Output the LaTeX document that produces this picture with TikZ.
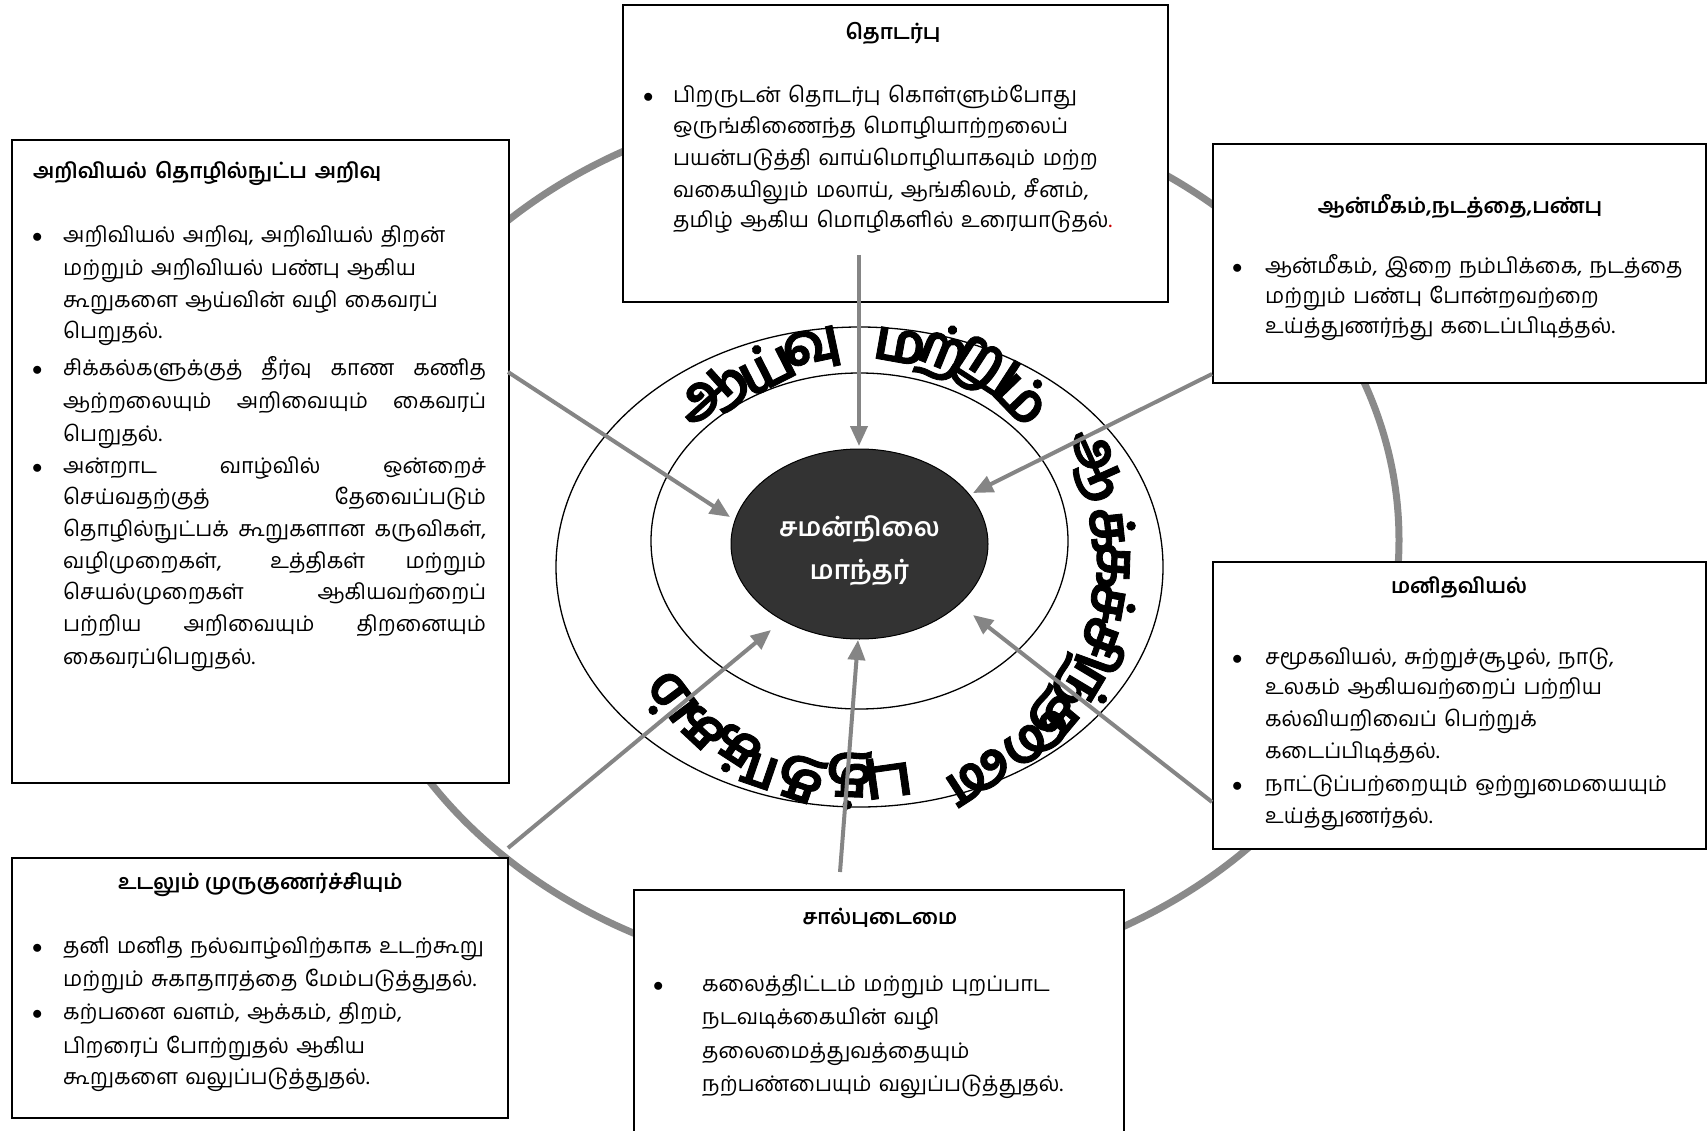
\documentclass[tikz,border=0pt]{standalone}
\usepackage{fontspec}
\setmainfont[Script=Tamil, WordSpace=1.4]{Hind Madurai}
\newfontfamily\ringfont[Script=Tamil, FakeBold=1.5]{Hind Madurai}
\usetikzlibrary{arrows.meta,shapes.geometric}
\definecolor{arrgray}{HTML}{858585}
\definecolor{ringgray}{HTML}{8A8A8A}
\definecolor{ctrfill}{HTML}{333333}
\newcounter{lnc}
\newcommand\tline[3]{\stepcounter{lnc}\node[txt] (ln\arabic{lnc}) at (#1,#2) {#3};}
\newcommand\jline[4]{\stepcounter{lnc}\node[txt] (ln\arabic{lnc}) at (#1,#2) {\makebox[#3pt][s]{#4}};}
\newcommand\bul[2]{\stepcounter{lnc}\node[txt] (bu\arabic{lnc}) at (#1,#2) {$\bullet$};}
\newcommand\rg[4]{\stepcounter{lnc}\node[ringtxt, rotate=#3] (rg\arabic{lnc}) at (#1,#2) {#4};}
\begin{document}
\begin{tikzpicture}[x=1pt,y=-1pt,
  box/.style={draw=black, line width=1.6pt, fill=white, inner sep=0, anchor=north west},
  arr/.style={draw=arrgray, line width=4pt, -{Triangle[length=20pt,width=17pt]}},
  txt/.style={anchor=base west, inner sep=0, font=\fontsize{21.5}{24}\selectfont},
  ttl/.style={anchor=center, inner sep=0, font=\bfseries\fontsize{21}{24}\selectfont},
  ringtxt/.style={anchor=center, inner sep=0, font=\ringfont\bfseries\fontsize{57}{57}\selectfont}]
\useasboundingbox (0,0) rectangle (1708,1131);
\fill[white] (0,0) rectangle (1708,1131);

% big gray ring
\draw[ringgray, line width=7pt] (871,540) ellipse [x radius=528, y radius=440];

% concentric rings
\draw[line width=1.3pt] (859.5,567) ellipse [x radius=303.5, y radius=240];
\draw[line width=1.3pt] (859.5,541) ellipse [x radius=208.5, y radius=168];

% centre
\node[ellipse, draw=black, line width=1pt, fill=ctrfill, minimum width=257pt, minimum height=190pt, inner sep=0] (ctr) at (859.5,544) {};
\node[align=center, text=white, inner sep=0, font=\bfseries\fontsize{26}{43}\selectfont] (ctrtxt) at (859.5,551) {சமன்நிலை\\மாந்தர்};

% ring text
\rg{714}{396}{42}{ஆ}
\rg{765}{366}{27}{ய்}
\rg{812}{350}{12}{வு}
\rg{900}{346}{-10}{ம}
\rg{943}{353}{-22}{ற்}
\rg{983}{370}{-33}{று}
\rg{1024}{396}{-46}{ம்}
\rg{1093}{466}{-66}{ஆ}
\rg{1113}{530}{-84}{க்}
\rg{1113}{566}{-92}{க}
\rg{1113}{604}{-100}{ச்}
\rg{1103}{647}{-110}{சி}
\rg{1081}{686}{-121}{ந்}
\rg{1053}{714}{-130}{த}
\rg{1008}{757}{-147}{னை}
\rg{888}{777}{-172}{பு}
\rg{849}{780}{-182}{த்}
\rg{784}{772}{-199}{தா}
\rg{734}{751}{-213}{க்}
\rg{701}{728}{-223}{க}
\rg{668}{700}{-233}{ம்}

% ---------- top box
\node[box, minimum width=545pt, minimum height=297pt] (tbox) at (622,4) {};
\node[ttl] (ttop) at (893,33) {தொடர்பு};
\bul{643}{103}
\tline{673}{103}{பிறருடன் தொடர்பு கொள்ளும்போது}
\tline{673}{134}{ஒருங்கிணைந்த மொழியாற்றலைப்}
\tline{673}{166}{பயன்படுத்தி வாய்மொழியாகவும் மற்ற}
\tline{673}{198}{வகையிலும் மலாய், ஆங்கிலம், சீனம்,}
\tline{673}{228}{தமிழ் ஆகிய மொழிகளில் உரையாடுதல்{\color{red!80!black}.}}

% ---------- left box
\node[box, minimum width=497pt, minimum height=643pt] (lbox) at (11,139) {};
\node[anchor=west, inner sep=0, font=\bfseries\fontsize{21}{24}\selectfont] (tleft) at (33,173) {\makebox[348pt][s]{அறிவியல் தொழில்நுட்ப அறிவு}};
\bul{32}{243}
\tline{63}{243}{அறிவியல் அறிவு, அறிவியல் திறன்}
\tline{63}{276}{மற்றும் அறிவியல் பண்பு ஆகிய}
\tline{63}{308}{கூறுகளை ஆய்வின் வழி கைவரப்}
\tline{63}{339}{பெறுதல்.}
\bul{32}{376}
\jline{63}{376}{423}{சிக்கல்களுக்குத் தீர்வு காண கணித}
\jline{63}{408}{423}{ஆற்றலையும் அறிவையும் கைவரப்}
\tline{63}{441}{பெறுதல்.}
\bul{32}{473}
\jline{63}{473}{423}{அன்றாட வாழ்வில் ஒன்றைச்}
\jline{63}{504}{423}{செய்வதற்குத் தேவைப்படும்}
\jline{63}{536}{423}{தொழில்நுட்பக் கூறுகளான கருவிகள்,}
\jline{63}{568}{423}{வழிமுறைகள், உத்திகள் மற்றும்}
\jline{63}{599}{423}{செயல்முறைகள் ஆகியவற்றைப்}
\jline{63}{631}{423}{பற்றிய அறிவையும் திறனையும்}
\tline{63}{664}{கைவரப்பெறுதல்.}

% ---------- right top box
\node[box, minimum width=493pt, minimum height=239pt] (rtbox) at (1212,143) {};
\node[ttl] (trt) at (1460,207) {ஆன்மீகம்,நடத்தை,பண்பு};
\bul{1232}{274}
\tline{1265}{274}{ஆன்மீகம், இறை நம்பிக்கை, நடத்தை}
\tline{1265}{304}{மற்றும் பண்பு போன்றவற்றை}
\tline{1265}{334}{உய்த்துணர்ந்து கடைப்பிடித்தல்.}

% ---------- right middle box
\node[box, minimum width=493pt, minimum height=287pt] (rmbox) at (1212,561) {};
\node[ttl] (trm) at (1459,588) {மனிதவியல்};
\bul{1232}{664}
\tline{1265}{664}{சமூகவியல், சுற்றுச்சூழல், நாடு,}
\tline{1265}{694}{உலகம் ஆகியவற்றைப் பற்றிய}
\tline{1265}{726}{கல்வியறிவைப் பெற்றுக்}
\tline{1265}{758}{கடைப்பிடித்தல்.}
\bul{1232}{791}
\tline{1265}{791}{நாட்டுப்பற்றையும் ஒற்றுமையையும்}
\tline{1265}{823}{உய்த்துணர்தல்.}

% ---------- bottom left box
\node[box, minimum width=496pt, minimum height=260pt] (blbox) at (11,857) {};
\node[ttl] (tbl) at (258,885) {\makebox[280pt][s]{உடலும் முருகுணர்ச்சியும்}};
\bul{32}{953}
\tline{63}{953}{தனி மனித நல்வாழ்விற்காக உடற்கூறு}
\tline{63}{986}{மற்றும் சுகாதாரத்தை மேம்படுத்துதல்.}
\bul{32}{1019}
\tline{63}{1019}{கற்பனை வளம், ஆக்கம், திறம்,}
\tline{63}{1053}{பிறரைப் போற்றுதல் ஆகிய}
\tline{63}{1084}{கூறுகளை வலுப்படுத்துதல்.}

% ---------- bottom middle box
\node[box, minimum width=490pt, minimum height=250pt] (bmbox) at (633,889) {};
\node[ttl] (tbm) at (880,918) {சால்புடைமை};
\bul{653}{991}
\tline{702}{991}{கலைத்திட்டம் மற்றும் புறப்பாட}
\tline{702}{1024}{நடவடிக்கையின் வழி}
\tline{702}{1058}{தலைமைத்துவத்தையும்}
\tline{702}{1091}{நற்பண்பையும் வலுப்படுத்துதல்.}

% ---------- arrows
\coordinate (sTop) at (859,255);
\coordinate (eTop) at (859,446);
\coordinate (sL) at (508,372);
\coordinate (eL) at (730,517);
\coordinate (sRT) at (1212,374);
\coordinate (eRT) at (973,493);
\coordinate (sRM) at (1212,802);
\coordinate (eRM) at (973,615);
\coordinate (sBL) at (508,848);
\coordinate (eBL) at (771,630);
\coordinate (sBM) at (840,872);
\coordinate (eBM) at (858,640);
\draw[arr] (sTop) -- (eTop);
\draw[arr] (sL) -- (eL);
\draw[arr] (sRT) -- (eRT);
\draw[arr] (sRM) -- (eRM);
\draw[arr] (sBL) -- (eBL);
\draw[arr] (sBM) -- (eBM);
\end{tikzpicture}
\end{document}
